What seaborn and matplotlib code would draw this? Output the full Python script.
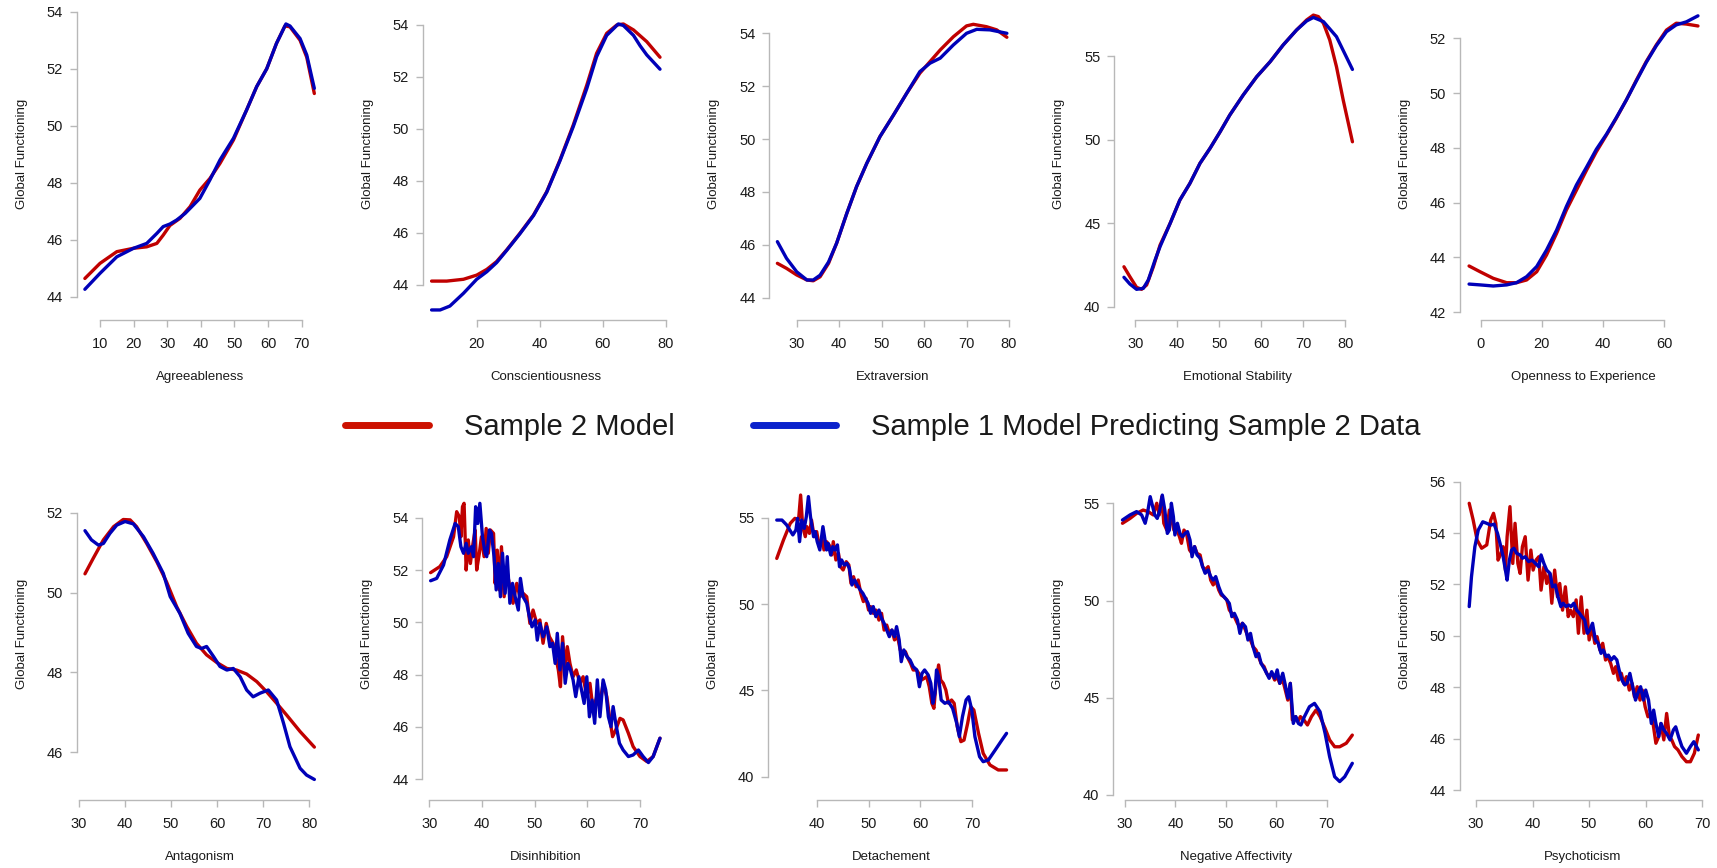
import matplotlib
matplotlib.use("Agg")
import matplotlib.pyplot as plt
from matplotlib.lines import Line2D
import pandas as pd
import seaborn as sns

# ---------------------------------------------------------------- data
# Big Five domains (top row)
AGREE_S2_X = [5.5, 10, 15, 20, 23.9, 26.9, 28.8, 30.8, 33.8, 36.8, 39.7, 42.7, 45.7, 49.7, 53.6, 56.6, 59.6, 62.5, 65, 66.5, 69.5, 71.5, 73.75]
AGREE_S2_Y = [44.64, 45.17, 45.58, 45.7, 45.75, 45.87, 46.16, 46.5, 46.75, 47.16, 47.74, 48.15, 48.68, 49.5, 50.55, 51.37, 52.0, 52.89, 53.5, 53.47, 53.0, 52.4, 51.13]
AGREE_S1_X = [5.5, 10, 15, 20, 23.9, 26.9, 28.8, 30.8, 32.8, 35.3, 37.8, 39.7, 42.7, 45.7, 49.7, 53.6, 56.6, 59.6, 62.5, 65.3, 66.5, 69.5, 71.5, 73.75]
AGREE_S1_Y = [44.26, 44.82, 45.4, 45.7, 45.87, 46.22, 46.46, 46.55, 46.69, 46.92, 47.22, 47.45, 48.1, 48.8, 49.56, 50.55, 51.37, 52.0, 52.89, 53.57, 53.5, 53.06, 52.48, 51.31]

CONSC_S2_X = [5.7, 10.5, 15.8, 20, 23.2, 26.3, 29.5, 33.7, 38, 42.2, 46.4, 50.6, 54.9, 58, 61.2, 64.4, 66.5, 69.7, 73.9, 78.1]
CONSC_S2_Y = [44.15, 44.15, 44.22, 44.38, 44.6, 44.9, 45.35, 45.99, 46.69, 47.59, 48.81, 50.15, 51.69, 52.91, 53.68, 54.0, 54.04, 53.81, 53.36, 52.76]
CONSC_S1_X = [5.7, 8.4, 11.5, 15.8, 20, 23.2, 26.3, 29.5, 33.7, 38, 42.2, 46.4, 50.6, 54.9, 58, 61.2, 64.9, 66.5, 69.7, 71.8, 73.9, 78.1]
CONSC_S1_Y = [43.04, 43.04, 43.19, 43.68, 44.22, 44.51, 44.86, 45.33, 45.97, 46.67, 47.57, 48.78, 50.09, 51.56, 52.78, 53.6, 54.04, 53.98, 53.6, 53.2, 52.85, 52.3]

EXTRA_S2_X = [25.45, 27.6, 30, 32.4, 33.9, 35.5, 37.5, 39.4, 41.8, 44.1, 46.5, 49.6, 52.8, 55.9, 59, 61.4, 63.8, 66.9, 70, 71.6, 74.7, 77.1, 79.5]
EXTRA_S2_Y = [45.3, 45.11, 44.86, 44.67, 44.64, 44.79, 45.3, 46.06, 47.19, 48.2, 49.08, 50.09, 50.91, 51.73, 52.49, 52.93, 53.37, 53.87, 54.28, 54.34, 54.25, 54.13, 53.85]
EXTRA_S1_X = [25.45, 27.6, 30, 32.4, 33.9, 35.5, 37.5, 39.4, 41.8, 44.1, 46.5, 49.6, 52.8, 55.9, 59, 61.4, 63.8, 66.9, 70, 72.4, 75.5, 79.5]
EXTRA_S1_Y = [46.12, 45.49, 44.98, 44.67, 44.67, 44.85, 45.35, 46.06, 47.19, 48.2, 49.08, 50.09, 50.91, 51.73, 52.55, 52.87, 53.06, 53.56, 54.0, 54.15, 54.13, 54.0]

EMOST_S2_X = [27.3, 28.7, 30.3, 31.5, 32.7, 34.3, 35.9, 38.3, 40.6, 43, 45.4, 47.8, 50.2, 52.5, 55.7, 58.9, 62.1, 65.2, 68.4, 70.8, 72.4, 73.6, 74.8, 76.3, 77.9, 79.5, 81.7]
EMOST_S2_Y = [42.39, 41.8, 41.16, 41.04, 41.3, 42.39, 43.69, 44.99, 46.38, 47.38, 48.58, 49.48, 50.47, 51.47, 52.67, 53.76, 54.66, 55.66, 56.56, 57.16, 57.45, 57.36, 56.96, 55.96, 54.36, 52.37, 49.87]
EMOST_S1_X = [27.3, 28.7, 30.3, 31.9, 33.1, 34.7, 35.9, 38.3, 40.6, 43, 45.4, 47.8, 50.2, 52.5, 55.7, 58.9, 62.1, 65.2, 68.4, 70.8, 72.4, 74.8, 77.9, 81.7]
EMOST_S1_Y = [41.76, 41.36, 41.04, 41.1, 41.6, 42.79, 43.6, 44.99, 46.38, 47.38, 48.58, 49.48, 50.47, 51.47, 52.67, 53.76, 54.66, 55.66, 56.56, 57.1, 57.31, 57.06, 56.16, 54.2]

OPEN_S2_X = [-3.8, -0.2, 4.1, 8.5, 11.7, 15, 18.3, 21.5, 24.8, 28, 31.3, 34.6, 37.8, 41.1, 44.3, 47.6, 50.9, 54.1, 57.4, 60.7, 63.9, 67.2, 71]
OPEN_S2_Y = [43.69, 43.48, 43.24, 43.08, 43.08, 43.18, 43.48, 44.09, 44.88, 45.73, 46.46, 47.19, 47.86, 48.47, 49.08, 49.75, 50.48, 51.15, 51.76, 52.3, 52.55, 52.52, 52.45]
OPEN_S1_X = [-3.8, -0.2, 4.1, 8.5, 11.7, 15, 18.3, 21.5, 24.8, 28, 31.3, 34.6, 37.8, 41.1, 44.3, 47.6, 50.9, 54.1, 57.4, 60.7, 63.9, 67.2, 71]
OPEN_S1_Y = [43.03, 43.0, 42.96, 43.0, 43.08, 43.3, 43.67, 44.27, 45.0, 45.86, 46.65, 47.3, 47.95, 48.5, 49.1, 49.75, 50.45, 51.12, 51.73, 52.24, 52.49, 52.6, 52.82]

# PID-5 domains (bottom row)
ANTAG_S2_X = [31.3, 33.1, 35.3, 37.5, 39.6, 41.1, 42.5, 44.7, 46.9, 49, 51.2, 53.4, 55.5, 57.7, 59.9, 62.1, 64.2, 66.4, 68.6, 70.7, 72.9, 75.1, 78, 81.1]
ANTAG_S2_Y = [50.47, 50.86, 51.32, 51.65, 51.83, 51.82, 51.65, 51.23, 50.77, 50.27, 49.65, 49.15, 48.73, 48.44, 48.25, 48.1, 48.06, 47.96, 47.77, 47.52, 47.23, 46.93, 46.52, 46.13]
ANTAG_S1_X = [31.3, 32.7, 34.2, 35.3, 36.7, 38.2, 40, 41.8, 44, 46.1, 48.3, 49.8, 51.9, 53.7, 55.5, 56.6, 57.7, 59.2, 60.6, 62.1, 63.5, 65, 66.4, 67.8, 69.3, 71.1, 72.9, 74.4, 75.8, 78, 79.4, 81.1]
ANTAG_S1_Y = [51.55, 51.32, 51.19, 51.23, 51.48, 51.69, 51.78, 51.72, 51.4, 50.98, 50.48, 49.9, 49.48, 48.98, 48.65, 48.6, 48.65, 48.4, 48.15, 48.06, 48.1, 47.89, 47.56, 47.39, 47.48, 47.56, 47.31, 46.73, 46.14, 45.6, 45.43, 45.32]

DISIN_S2_X = [30.25, 32, 33.3, 34.6, 35.2, 35.7, 36, 36.3, 36.6, 37, 37.4, 37.8, 38.2, 38.7, 39, 39.5, 39.9, 40.4, 40.8, 41.2, 41.6, 42.2, 42.5, 42.9, 43.3, 43.7, 44.2, 44.7, 45.3, 45.9, 46.6, 47.2, 47.8, 48.5, 49.1, 49.7, 50.4, 51, 51.6, 52.2, 52.8, 53.5, 54, 54.5, 54.9, 55.3, 55.8, 56.2, 56.7, 57.3, 57.9, 58.6, 59.2, 59.9, 60.5, 61.1, 61.8, 62.4, 63, 63.7, 64.3, 64.8, 65.4, 66.2, 66.8, 67.8, 68.7, 70, 71.3, 72.5, 73.8]
DISIN_S2_Y = [51.9, 52.13, 52.51, 53.27, 54.23, 54.04, 53.27, 54.42, 54.55, 52.0, 53.15, 52.25, 52.89, 53.53, 52.0, 52.64, 53.27, 52.51, 53.59, 52.64, 53.53, 53.4, 51.49, 52.76, 51.24, 52.89, 50.98, 52.0, 51.36, 50.73, 51.49, 50.98, 51.11, 50.98, 49.96, 50.47, 49.96, 50.09, 49.2, 49.96, 49.45, 49.2, 48.69, 48.18, 47.54, 49.45, 48.18, 49.07, 48.43, 47.92, 48.18, 47.67, 47.92, 47.16, 47.67, 46.65, 47.16, 46.9, 47.67, 47.16, 46.27, 45.63, 45.89, 46.33, 46.27, 45.76, 45.25, 44.87, 44.68, 44.87, 45.57]
DISIN_S1_X = [30.25, 31.4, 32.7, 33.9, 34.9, 35.5, 36, 36.5, 37, 37.4, 38, 38.4, 38.8, 39.2, 39.6, 40.1, 40.6, 40.9, 41.4, 41.8, 42.3, 42.7, 43.1, 43.5, 43.9, 44.4, 44.8, 45.3, 45.8, 46.3, 46.9, 47.3, 47.8, 48.5, 49, 49.5, 50.1, 50.5, 51, 51.6, 52.3, 52.9, 53.4, 53.9, 54.3, 54.8, 55.3, 55.8, 56.3, 56.8, 57.3, 57.8, 58.4, 58.9, 59.4, 59.9, 60.4, 60.9, 61.4, 61.9, 62.4, 63, 63.5, 64, 64.5, 64.9, 65.4, 66.1, 66.8, 67.8, 68.7, 69.7, 70.6, 71.6, 72.5, 73.8]
DISIN_S1_Y = [51.59, 51.68, 52.19, 53.15, 53.78, 53.66, 52.89, 52.64, 53.02, 52.64, 52.89, 52.51, 54.42, 53.78, 54.55, 53.27, 52.64, 52.51, 53.53, 53.4, 52.51, 51.24, 52.25, 50.98, 52.64, 51.11, 52.51, 50.73, 51.49, 50.98, 50.47, 51.68, 50.98, 50.73, 50.22, 49.83, 50.09, 49.32, 49.96, 49.45, 49.83, 49.07, 49.2, 48.43, 49.58, 48.18, 49.2, 47.67, 48.43, 48.18, 47.8, 47.16, 47.92, 47.41, 46.9, 47.92, 46.39, 47.03, 46.14, 47.8, 46.39, 47.8, 47.41, 46.39, 46.01, 46.78, 46.14, 45.38, 45.12, 44.87, 44.93, 45.12, 44.87, 44.64, 44.87, 45.57]

DETAC_S2_X = [32.3, 33.6, 34.9, 35.8, 36.5, 36.9, 37.3, 37.8, 38.1, 38.6, 39, 39.5, 40, 40.5, 41, 41.4, 41.9, 42.4, 42.9, 43.2, 43.7, 44.2, 44.6, 45.1, 45.7, 46.2, 46.6, 47.1, 47.6, 48, 48.5, 49, 49.5, 50, 50.4, 50.9, 51.4, 52, 52.5, 53, 53.5, 54, 54.5, 55, 55.6, 56.1, 56.6, 57.1, 57.6, 58.1, 58.6, 59.2, 59.7, 60.2, 60.7, 61.2, 61.7, 62.2, 62.6, 63, 63.5, 63.9, 64.4, 64.9, 65.4, 66, 66.5, 67.1, 67.8, 68.4, 69.1, 69.7, 70.3, 71.2, 72.1, 73.4, 75, 76.6]
DETAC_S2_Y = [52.64, 53.71, 54.67, 54.96, 54.86, 56.31, 54.48, 53.9, 54.48, 54.09, 54.86, 53.9, 54.19, 53.32, 53.8, 53.13, 53.61, 53.42, 52.84, 53.61, 52.55, 52.93, 52.16, 51.97, 52.45, 52.26, 51.2, 51.58, 51.0, 51.39, 50.62, 50.14, 50.33, 49.65, 49.85, 49.46, 49.65, 49.07, 49.46, 48.49, 48.78, 48.3, 48.49, 47.92, 48.11, 47.34, 47.14, 47.24, 46.85, 46.56, 46.18, 46.18, 45.98, 45.6, 45.69, 45.79, 45.21, 44.25, 43.96, 45.41, 46.47, 45.6, 45.41, 45.02, 44.25, 44.44, 44.25, 42.9, 42.03, 42.12, 43.09, 44.05, 43.86, 42.51, 41.35, 40.68, 40.39, 40.39]
DETAC_S1_X = [32.3, 33.3, 34.2, 35.4, 36, 36.3, 36.7, 37.1, 37.6, 38, 38.4, 38.8, 39.4, 39.7, 40.1, 40.6, 41.2, 41.6, 41.9, 42.2, 42.7, 43.1, 43.5, 44, 44.4, 44.8, 45.3, 45.8, 46.3, 46.8, 47.3, 47.8, 48.4, 48.9, 49.4, 49.9, 50.4, 50.9, 51.4, 52, 52.5, 53, 53.5, 54, 54.5, 55, 55.4, 55.9, 56.3, 56.8, 57.4, 58, 58.6, 59.3, 59.8, 60.3, 60.8, 61.5, 62, 62.4, 62.8, 63.1, 63.5, 64, 64.7, 65.4, 66.2, 67, 67.5, 68.1, 68.8, 69.3, 69.9, 70.5, 71.4, 72.1, 73.1, 74.4, 75.7, 76.6]
DETAC_S1_Y = [54.86, 54.86, 54.58, 54.0, 54.29, 54.96, 53.61, 54.86, 54.38, 55.06, 56.22, 55.06, 53.9, 54.19, 53.61, 53.13, 54.48, 53.71, 53.13, 53.51, 52.84, 53.32, 53.13, 53.42, 52.16, 52.55, 52.26, 52.36, 52.07, 51.1, 51.39, 51.1, 50.81, 50.62, 50.33, 50.04, 49.46, 49.85, 49.27, 49.65, 49.17, 48.88, 48.49, 48.11, 48.49, 48.11, 48.69, 47.92, 46.66, 47.34, 46.95, 46.76, 46.37, 46.18, 45.21, 45.98, 46.18, 45.89, 45.41, 44.25, 44.83, 46.18, 45.79, 44.44, 44.25, 44.34, 43.96, 43.09, 42.32, 43.47, 44.44, 44.63, 43.86, 42.32, 41.16, 40.87, 40.97, 41.54, 42.12, 42.51]

NEGAF_S2_X = [29.5, 31, 32.3, 33.6, 34.6, 35.6, 36.3, 36.8, 37.3, 37.7, 38.3, 38.8, 39.3, 39.7, 40.2, 40.8, 41.2, 41.7, 42.2, 42.8, 43.3, 43.8, 44.3, 44.9, 45.4, 45.9, 46.5, 47, 47.5, 48, 48.6, 49.1, 49.6, 50.2, 50.7, 51.2, 51.7, 52.3, 52.8, 53.3, 53.9, 54.4, 54.9, 55.4, 56, 56.5, 57, 57.6, 58.1, 58.6, 59.1, 59.7, 60.2, 60.7, 61.3, 61.8, 62.3, 62.8, 63.2, 63.8, 64.3, 64.8, 65.5, 66.2, 67, 67.9, 68.7, 69.7, 70.6, 71.6, 72.6, 73.9, 75.1]
NEGAF_S2_Y = [53.97, 54.22, 54.48, 54.65, 54.57, 54.4, 55.0, 54.4, 55.34, 53.97, 53.62, 54.65, 54.14, 53.62, 53.71, 53.28, 52.94, 53.62, 53.45, 52.6, 52.42, 52.77, 52.42, 52.34, 51.74, 51.57, 51.74, 51.05, 50.8, 51.05, 50.54, 50.28, 50.2, 50.03, 49.51, 49.34, 49.17, 48.83, 48.65, 48.83, 48.48, 48.14, 47.97, 47.63, 47.45, 47.11, 46.77, 46.6, 46.26, 46.08, 46.26, 45.91, 46.08, 45.74, 45.91, 45.4, 44.88, 45.74, 43.86, 44.03, 43.77, 44.03, 43.86, 43.6, 44.03, 44.37, 44.03, 43.43, 42.83, 42.48, 42.48, 42.66, 43.08]
NEGAF_S1_X = [29.5, 31, 32.3, 33.3, 34, 34.4, 35, 35.5, 35.9, 36.4, 36.9, 37.4, 37.9, 38.4, 38.8, 39.2, 39.6, 39.9, 40.4, 40.9, 41.4, 41.9, 42.4, 42.9, 43.3, 43.8, 44.3, 44.9, 45.4, 45.9, 46.5, 47, 47.5, 48, 48.6, 49.1, 49.6, 50.2, 50.7, 51.2, 51.7, 52.3, 52.8, 53.3, 53.9, 54.4, 54.9, 55.4, 56, 56.5, 57, 57.6, 58.1, 58.6, 59.1, 59.7, 60.2, 60.7, 61.3, 61.8, 62.3, 62.8, 63.4, 63.9, 64.4, 64.9, 65.6, 66.6, 67.6, 68.7, 69.7, 70.6, 71.6, 72.6, 73.6, 75.1]
NEGAF_S1_Y = [54.14, 54.4, 54.57, 54.4, 53.97, 54.4, 55.34, 54.82, 54.4, 54.22, 54.65, 55.42, 54.65, 53.45, 53.62, 55.0, 54.31, 53.37, 53.97, 53.45, 53.28, 53.45, 53.54, 53.11, 52.25, 52.77, 52.34, 52.17, 51.74, 51.4, 51.57, 51.23, 51.05, 51.23, 50.71, 50.37, 50.2, 50.03, 49.85, 49.17, 49.34, 49.0, 48.31, 48.83, 48.65, 47.97, 48.31, 47.63, 47.11, 47.28, 46.77, 46.51, 46.26, 46.0, 46.34, 46.0, 46.43, 45.74, 46.26, 45.66, 44.98, 45.74, 43.68, 44.03, 43.68, 43.6, 44.03, 44.54, 44.71, 44.28, 43.17, 41.97, 40.94, 40.69, 40.94, 41.63]

PSYCH_S2_X = [28.8, 29.5, 30.2, 31, 31.9, 32.6, 33.1, 33.5, 33.9, 34.4, 34.8, 35.2, 35.5, 36, 36.5, 36.9, 37.4, 37.8, 38.2, 38.7, 39.2, 39.7, 40.1, 40.6, 41.1, 41.5, 42, 42.5, 43, 43.4, 43.9, 44.4, 44.8, 45.3, 45.8, 46.3, 46.7, 47.2, 47.7, 48.1, 48.6, 49.1, 49.6, 50, 50.5, 51, 51.4, 51.9, 52.4, 52.9, 53.3, 53.8, 54.3, 54.7, 55.2, 55.7, 56.1, 56.6, 57.1, 57.6, 58, 58.5, 59, 59.4, 59.9, 60.4, 60.9, 61.3, 61.8, 62.3, 62.7, 63.2, 63.7, 64.2, 64.6, 65.1, 65.7, 66.4, 67.2, 67.9, 68.6, 69.3]
PSYCH_S2_Y = [55.16, 54.51, 53.73, 53.41, 53.54, 54.51, 54.77, 54.38, 52.95, 53.21, 53.47, 52.56, 53.86, 55.03, 52.82, 54.38, 52.82, 52.43, 53.47, 53.86, 52.17, 53.34, 52.56, 52.95, 53.08, 51.78, 52.69, 52.04, 52.43, 51.27, 52.56, 51.52, 52.04, 51.0, 51.91, 50.75, 51.0, 50.75, 51.4, 50.1, 51.52, 50.1, 51.0, 49.84, 50.36, 49.71, 49.97, 49.45, 49.71, 49.06, 49.19, 48.93, 48.54, 48.8, 48.28, 48.54, 48.15, 48.41, 47.89, 48.15, 47.63, 48.02, 47.5, 47.89, 47.24, 46.85, 46.98, 46.59, 45.82, 46.08, 46.59, 45.95, 46.98, 46.08, 45.95, 45.69, 45.56, 45.3, 45.1, 45.1, 45.43, 46.14]
PSYCH_S1_X = [28.8, 29.2, 29.8, 30.4, 31.2, 31.9, 32.6, 33.2, 33.8, 34.4, 34.8, 35.2, 35.5, 35.9, 36.3, 36.7, 37.2, 37.8, 38.2, 38.7, 39.3, 39.9, 40.5, 41.1, 41.5, 42, 42.5, 43.1, 43.5, 44, 44.5, 45, 45.4, 45.9, 46.4, 46.8, 47.3, 47.8, 48.3, 48.7, 49.2, 49.7, 50.1, 50.6, 51.1, 51.6, 52.1, 52.5, 53, 53.4, 53.9, 54.4, 54.9, 55.3, 55.8, 56.3, 56.7, 57.2, 57.7, 58.2, 58.6, 59.1, 59.6, 60, 60.5, 61, 61.4, 61.8, 62.3, 62.7, 63.2, 63.7, 64.3, 64.9, 65.3, 65.8, 66.4, 67.2, 67.9, 68.5, 69.3]
PSYCH_S1_Y = [51.14, 52.3, 53.47, 54.12, 54.44, 54.38, 54.31, 54.35, 53.99, 53.47, 53.08, 52.56, 52.17, 52.95, 53.34, 53.41, 53.21, 53.15, 53.02, 53.08, 52.89, 52.95, 52.82, 52.69, 53.15, 52.82, 52.56, 52.43, 51.91, 51.98, 51.52, 51.14, 51.27, 51.14, 51.2, 51.14, 51.27, 51.0, 50.88, 50.75, 50.62, 50.1, 50.23, 50.49, 49.84, 49.71, 49.32, 49.45, 49.19, 49.25, 49.06, 49.19, 49.06, 48.67, 48.28, 48.09, 48.15, 48.54, 48.02, 47.5, 47.76, 48.02, 47.5, 47.89, 47.5, 46.59, 47.11, 46.59, 46.08, 46.59, 46.34, 46.2, 45.95, 46.34, 46.46, 46.08, 45.69, 45.43, 45.69, 45.88, 45.56]

TRAITS = ["Agreeableness", "Conscientiousness", "Extraversion", "Emotional Stability", "Openness to Experience",
          "Antagonism", "Disinhibition", "Detachement", "Negative Affectivity", "Psychoticism"]
SERIES = ["Sample 2 Model", "Sample 1 Model Predicting Sample 2 Data"]
CURVES = [
    ((AGREE_S2_X, AGREE_S2_Y), (AGREE_S1_X, AGREE_S1_Y)),
    ((CONSC_S2_X, CONSC_S2_Y), (CONSC_S1_X, CONSC_S1_Y)),
    ((EXTRA_S2_X, EXTRA_S2_Y), (EXTRA_S1_X, EXTRA_S1_Y)),
    ((EMOST_S2_X, EMOST_S2_Y), (EMOST_S1_X, EMOST_S1_Y)),
    ((OPEN_S2_X, OPEN_S2_Y), (OPEN_S1_X, OPEN_S1_Y)),
    ((ANTAG_S2_X, ANTAG_S2_Y), (ANTAG_S1_X, ANTAG_S1_Y)),
    ((DISIN_S2_X, DISIN_S2_Y), (DISIN_S1_X, DISIN_S1_Y)),
    ((DETAC_S2_X, DETAC_S2_Y), (DETAC_S1_X, DETAC_S1_Y)),
    ((NEGAF_S2_X, NEGAF_S2_Y), (NEGAF_S1_X, NEGAF_S1_Y)),
    ((PSYCH_S2_X, PSYCH_S2_Y), (PSYCH_S1_X, PSYCH_S1_Y)),
]
X_TICKS = [[10, 20, 30, 40, 50, 60, 70], [20, 40, 60, 80], [30, 40, 50, 60, 70, 80], [30, 40, 50, 60, 70, 80], [0, 20, 40, 60],
           [30, 40, 50, 60, 70, 80], [30, 40, 50, 60, 70], [40, 50, 60, 70], [30, 40, 50, 60, 70], [30, 40, 50, 60, 70]]
Y_TICKS = [[44, 46, 48, 50, 52, 54], [44, 46, 48, 50, 52, 54], [44, 46, 48, 50, 52, 54], [40, 45, 50, 55], [42, 44, 46, 48, 50, 52],
           [46, 48, 50, 52], [44, 46, 48, 50, 52, 54], [40, 45, 50, 55], [40, 45, 50, 55], [44, 46, 48, 50, 52, 54, 56]]

# ---------------------------------------------------------------- layout (pixels)
FIG_W, FIG_H = 1717, 868
BOX_W, BOX_H = 246, 332
# left spine x, bottom spine y, (x tick, its pixel x, px per unit), (y tick, its pixel y, px per unit)
FRAMES = [
    (77.0, 320, (10, 100.0, 3.362), (44, 296.7, 28.5)),
    (422.7, 320, (20, 476.7, 3.155), (44, 285.0, 26.0)),
    (769.3, 320, (30, 796.7, 4.246), (44, 297.7, 26.44)),
    (1114.3, 320, (30, 1135.3, 4.2), (40, 306.7, 16.71)),
    (1460.0, 320, (0, 1480.7, 3.06), (42, 312.3, 27.4)),
    (77.0, 800, (30, 79.0, 4.606), (46, 752.3, 39.93)),
    (422.3, 800, (30, 429.3, 5.267), (44, 779.3, 26.16)),
    (768.3, 800, (40, 816.7, 5.187), (40, 776.7, 17.27)),
    (1113.3, 800, (30, 1125.0, 5.04), (40, 795.0, 19.45)),
    (1460.0, 800, (30, 1476.0, 5.657), (44, 790.0, 25.69)),
]

RED, BLUE = "#c00000", "#0000b8"
LEG_RED, LEG_BLUE = "#cc1100", "#0a22cc"
AXIS_GREY = "#b8b8b8"
TEXT = "#1a1a1a"

sns.set_style("white")
plt.rcParams["font.family"] = ["Liberation Sans", "DejaVu Sans"]

fig = plt.figure(figsize=(FIG_W / 100, FIG_H / 100), dpi=100)

for i, (trait, (s2, s1)) in enumerate(zip(TRAITS, CURVES)):
    left, bottom, (xt, xpx, xppu), (yt, ypx, yppu) = FRAMES[i]
    ax = fig.add_axes([left / FIG_W, 1 - bottom / FIG_H, BOX_W / FIG_W, BOX_H / FIG_H])
    x0 = xt - (xpx - left) / xppu
    y0 = yt - (bottom - ypx) / yppu

    df = pd.concat([
        pd.DataFrame({"score": s2[0], "gaf": s2[1], "model": SERIES[0]}),
        pd.DataFrame({"score": s1[0], "gaf": s1[1], "model": SERIES[1]}),
    ], ignore_index=True)
    sns.lineplot(data=df, x="score", y="gaf", hue="model", palette=[RED, BLUE],
                 estimator=None, sort=False, linewidth=2.4, legend=False, ax=ax)
    for ln in ax.get_lines():
        ln.set_solid_joinstyle("round")
        ln.set_solid_capstyle("round")
        ln.set_clip_on(False)

    ax.set_xlim(x0, x0 + BOX_W / xppu)
    ax.set_ylim(y0, y0 + BOX_H / yppu)
    ax.set_xticks(X_TICKS[i])
    ax.set_yticks(Y_TICKS[i])
    ax.spines["top"].set_visible(False)
    ax.spines["right"].set_visible(False)
    for side in ("left", "bottom"):
        ax.spines[side].set_color(AXIS_GREY)
        ax.spines[side].set_linewidth(1.0)
    ax.spines["bottom"].set_bounds(X_TICKS[i][0], X_TICKS[i][-1])
    ax.spines["left"].set_bounds(Y_TICKS[i][0], Y_TICKS[i][-1])
    ax.tick_params(axis="both", colors=AXIS_GREY, labelcolor=TEXT, labelsize=10.5,
                   length=5, width=1.0, direction="out")
    ax.tick_params(axis="x", pad=7, bottom=True)
    ax.tick_params(axis="y", pad=5, left=True)
    ax.set_facecolor("none")
    ax.grid(False)

    ax.set_xlabel(trait, fontsize=9.5, color=TEXT)
    ax.set_ylabel("Global Functioning", fontsize=9.5, color=TEXT)
    ax.xaxis.set_label_coords(0.5, -57 / BOX_H)
    ax.xaxis.label.set_va("center")
    ax.yaxis.set_label_coords(-55 / BOX_W, 0.5)
    ax.yaxis.label.set_va("center")

handles = [Line2D([], [], color=LEG_RED, linewidth=5, solid_capstyle="round"),
           Line2D([], [], color=LEG_BLUE, linewidth=5, solid_capstyle="round")]
fig.legend(handles, SERIES, loc="center", bbox_to_anchor=(883 / FIG_W, 1 - 427 / FIG_H),
           ncol=2, frameon=False, fontsize=21, handlelength=2.85, handletextpad=1.2,
           columnspacing=2.7, labelcolor=TEXT)

fig.savefig("out.png", dpi=100, facecolor="white")
